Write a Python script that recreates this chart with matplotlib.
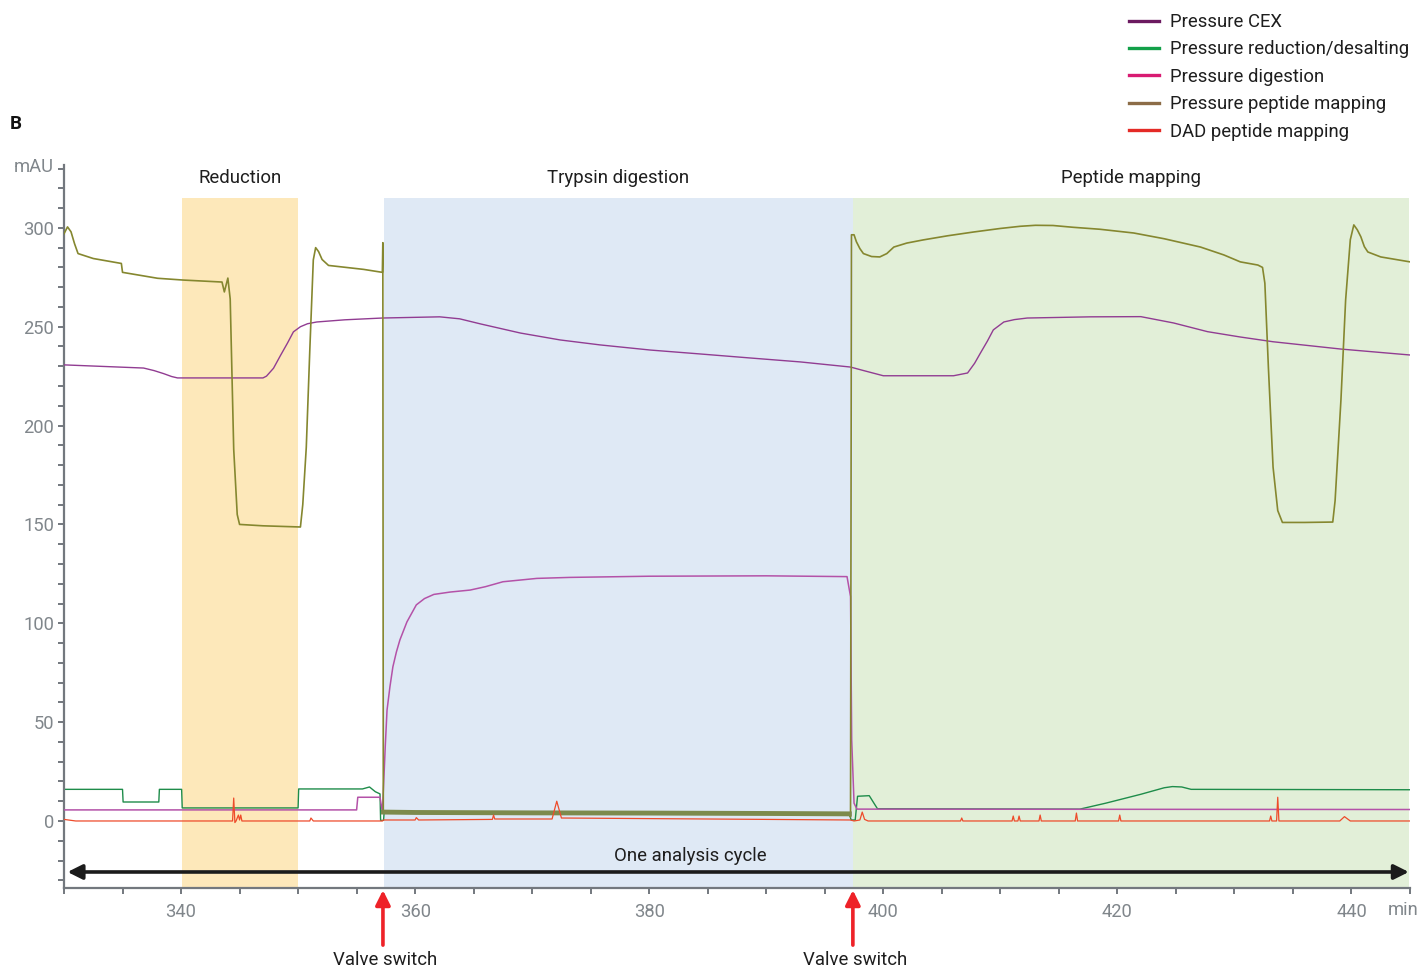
import matplotlib
matplotlib.use("Agg")
import matplotlib.pyplot as plt
from matplotlib.lines import Line2D
from matplotlib.ticker import MultipleLocator

plt.rcParams["font.family"] = ["Roboto", "DejaVu Sans"]

# ---- data (time in min, signal in mAU) ----
t_pep = [330.0, 330.3, 330.6, 330.9, 331.2, 332.5, 334.9, 335.0, 336.5, 338.0, 340.2, 343.5,
         343.7, 344.0, 344.2, 344.5, 344.8, 345.0, 347.0, 350.2, 350.4, 350.7, 351.0, 351.3,
         351.5, 351.75, 352.05, 352.6, 355.6, 357.2, 357.24, 357.28, 360.0, 370.0, 380.0, 390.0,
         397.1, 397.2, 397.28, 397.5, 397.7, 398.0, 398.3, 399.0, 399.7, 400.3, 400.9, 402.0,
         403.4, 405.5, 407.7, 410.0, 411.7, 413.0, 414.5, 416.2, 418.5, 421.4, 424.0, 427.1,
         429.1, 430.5, 432.0, 432.4, 432.6, 432.9, 433.3, 433.7, 434.1, 436.0, 438.4, 438.6,
         439.1, 439.5, 439.9, 440.2, 440.5, 440.8, 441.1, 441.4, 442.5, 445.0]
p_pep = [297, 300.5, 298, 292, 287, 284.5, 282, 277.5, 276, 274.5, 273.6, 272.6,
         267.6, 274.6, 264, 188, 155, 150, 149.3, 148.7, 160, 189, 238, 283.8,
         290, 288, 284, 281, 279, 277.5, 292.5, 4.5, 4.3, 4.1, 4.0, 3.8,
         3.6, 2.0, 296.5, 296.5, 293, 289.5, 287, 285.5, 285.3, 287, 290.3, 292.3,
         293.9, 296, 297.9, 299.7, 300.8, 301.3, 301.2, 300.3, 299.3, 297.4, 294.5, 290.3,
         286.3, 282.8, 281.2, 280, 272, 229.6, 179, 157, 151, 151, 151.2, 162,
         213, 263.5, 294, 301.5, 299, 295.5, 290.5, 287.8, 285.3, 282.8]

t_cex = [330.0, 336.8, 337.7, 338.5, 339.2, 339.7, 347.0, 347.3, 347.9, 348.5, 349.1, 349.6,
         350.2, 350.8, 351.6, 354.0, 357.2, 362.1, 363.8, 365.6, 369.0, 372.4, 375.8, 380.1,
         384.4, 388.6, 392.9, 397.2, 398.2, 399.1, 400.0, 406.0, 407.2, 407.8, 408.3, 408.9,
         409.4, 410.3, 411.2, 412.3, 417.7, 422.0, 424.8, 427.7, 430.5, 433.3, 439.1, 445.0]
p_cex = [230.7, 229.1, 227.8, 226.3, 224.8, 224.1, 224.1, 225, 229, 235.5, 241.8, 247.4,
         250, 251.5, 252.4, 253.5, 254.4, 255, 254, 251.4, 246.8, 243.3, 240.8, 238.2,
         236.2, 234.2, 232.2, 229.6, 228.0, 226.6, 225.2, 225.2, 226.6, 231.5, 236.7, 242.8,
         248.4, 252.4, 253.6, 254.4, 255, 255.1, 251.9, 247.5, 244.8, 242.4, 238.7, 235.7]

t_dig = [330.0, 355.0, 355.1, 357.0, 357.2, 357.3, 357.45, 357.6, 357.85, 358.1, 358.4, 358.7,
         359.3, 360.1, 360.8, 361.6, 363.0, 364.7, 366.0, 367.5, 370.4, 373.2, 380.0, 390.0,
         396.9, 397.2, 397.3, 397.5, 397.75, 445.0]
p_dig = [5.6, 5.6, 12, 12, 4.5, 17.4, 38, 56.1, 68, 78, 85.5, 91.6,
         100.7, 109.3, 112.5, 114.6, 115.8, 116.8, 118.5, 121, 122.7, 123.2, 123.8, 124,
         123.6, 113.5, 41, 9, 6, 5.8]

t_red = [330.0, 335.0, 335.05, 338.1, 338.15, 340.05, 340.1, 350.0, 350.05, 355.5, 356.1, 356.6,
         357.0, 357.05, 357.3, 357.35, 397.1, 397.25, 397.6, 397.8, 398.8, 399.2, 399.5, 416.8,
         419.0, 422.0, 424.0, 424.7, 425.5, 426.3, 445.0]
p_red = [16, 16, 9.6, 9.6, 16, 16, 6.6, 6.6, 16.2, 16.2, 17.2, 14.8,
         13.7, 0.3, 0.3, 4.2, 3.6, 0.5, 0.5, 12.5, 12.8, 9, 6.2, 6.0,
         9, 13.5, 16.8, 17.4, 17.2, 16, 15.8]

t_dad = [330.0, 331.0, 344.4, 344.5, 344.6, 344.7, 344.9, 345.0, 345.1, 345.2, 351.0, 351.1,
         351.3, 357.2, 357.3, 360.0, 360.1, 360.3, 366.6, 366.7, 366.8, 371.7, 372.1, 372.5,
         380.0, 390.0, 397.2, 397.5, 398.0, 398.2, 398.4, 398.7, 406.6, 406.7, 406.8, 411.0,
         411.1, 411.2, 411.5, 411.6, 411.7, 413.3, 413.4, 413.5, 416.4, 416.5, 416.6, 420.1,
         420.2, 420.3, 433.0, 433.1, 433.2, 433.6, 433.7, 433.8, 439.0, 439.4, 439.9, 445.0]
p_dad = [0.8, 0, 0, 11.6, -0.8, 0, 3, 0.5, 3, 0, 0, 1.5,
         0, 0, 0.5, 0.5, 1.7, 0.5, 0.8, 3, 1, 1, 10, 1.5,
         1.2, 0.8, 0.5, 0, 0.5, 4.5, 0.8, 0, 0, 1.5, 0, 0,
         2.5, 0, 0, 2.5, 0, 0, 3, 0, 0, 4, 0, 0,
         3, 0, 0, 2.5, 0, 0, 12, 0, 0, 2.2, 0, 0]

# phases (start, end, label)
phase_start = [340.1, 357.3, 397.4]
phase_end = [350.0, 397.4, 444.9]
phase_label = ["Reduction", "Trypsin digestion", "Peptide mapping"]
phase_color = ["#fde8ba", "#dfe9f5", "#e2efd8"]
valve_times = [357.25, 397.4]

legend_names = ["Pressure CEX", "Pressure reduction/desalting", "Pressure digestion",
                "Pressure peptide mapping", "DAD peptide mapping"]
legend_colors = ["#6b1a60", "#12a049", "#d81b72", "#8c6c47", "#e42a26"]

# ---- figure ----
fig = plt.figure(figsize=(14.2, 9.72), dpi=100)
ax = fig.add_axes([64 / 1420, 1 - 888 / 972, 1346 / 1420, 723 / 972])
ylo, yhi = -33.9, 331.8
ax.set_xlim(330, 445)
ax.set_ylim(ylo, yhi)

txt = dict(fontsize=13.4, color="#1e1e1e")

shade_top = 315
for x0, x1, lab, c in zip(phase_start, phase_end, phase_label, phase_color):
    ax.axvspan(x0, x1, ymin=0, ymax=(shade_top - ylo) / (yhi - ylo), color=c, lw=0, zorder=0)
    ax.text((x0 + x1) / 2, 325.2, lab, ha="center", va="center", **txt)

ax.plot(t_red, p_red, color="#1e8c4a", lw=1.0, zorder=2)
ax.plot(t_dig, p_dig, color="#b452a8", lw=1.1, zorder=3)
ax.plot(t_cex, p_cex, color="#913c92", lw=1.0, zorder=3)
ax.plot(t_pep, p_pep, color="#85872f", lw=1.2, zorder=4)
# noisy pressure band during digestion drawn thicker
band = [(t, p) for t, p in zip(t_pep, p_pep) if 357.28 <= t <= 397.1]
ax.plot([b[0] for b in band], [b[1] for b in band], color="#7d8a4c", lw=3.5, zorder=4)
ax.plot(t_dad, p_dad, color="#ee4b2b", lw=0.9, zorder=5)

# one analysis cycle arrow
ax.annotate("", xy=(444.9, -25.8), xytext=(330.3, -25.8),
            arrowprops=dict(arrowstyle="<|-|>", color="#1b1b1b", lw=2.6,
                            mutation_scale=22, shrinkA=0, shrinkB=0), zorder=6)
ax.text(383.5, -17.7, "One analysis cycle", ha="center", va="center", **txt)

# valve switch arrows below the axis
xt = ax.get_xaxis_transform()
for v in valve_times:
    ax.annotate("", xy=(v, -0.003), xytext=(v, -0.079), xycoords=xt, textcoords=xt,
                arrowprops=dict(arrowstyle="-|>", color="#ee2228", lw=2.6,
                                mutation_scale=22, shrinkA=0, shrinkB=0),
                annotation_clip=False)
    ax.text(v + 0.2, -0.1, "Valve switch", transform=xt, ha="center", va="center", **txt)

# axes styling
for s in ["top", "right"]:
    ax.spines[s].set_visible(False)
for s in ["left", "bottom"]:
    ax.spines[s].set_color("#73787e")
    ax.spines[s].set_linewidth(1.6)
ax.xaxis.set_major_locator(MultipleLocator(20))
ax.xaxis.set_minor_locator(MultipleLocator(5))
ax.yaxis.set_major_locator(MultipleLocator(50))
ax.yaxis.set_minor_locator(MultipleLocator(10))
ax.tick_params(which="both", length=4, width=1.4, color="#73787e")
ax.tick_params(axis="x", which="major", pad=7, labelsize=13.2, labelcolor="#80868b")
ax.tick_params(axis="y", which="major", pad=3, labelsize=13.2, labelcolor="#80868b")

ax.text(444.4, -0.03, "min", transform=xt, ha="center", va="center", fontsize=13.2, color="#80868b")
ax.text(-0.0075, 330.8, "mAU", transform=ax.get_yaxis_transform(), ha="right", va="center",
        fontsize=13.2, color="#80868b")

fig.text(10 / 1420, 1 - 124 / 972, "B", fontsize=13.5, fontweight="bold", va="center", color="#111111")

handles = [Line2D([], [], color=c, lw=2.4) for c in legend_colors]
fig.legend(handles, legend_names, loc="upper left", bbox_to_anchor=(1129 / 1420, 1 - 13 / 972),
           frameon=False, fontsize=13.3, handlelength=1.62, handletextpad=0.6,
           labelspacing=0.51, borderpad=0, borderaxespad=0, labelcolor="#1e1e1e")

fig.savefig("out.png", dpi=100)
